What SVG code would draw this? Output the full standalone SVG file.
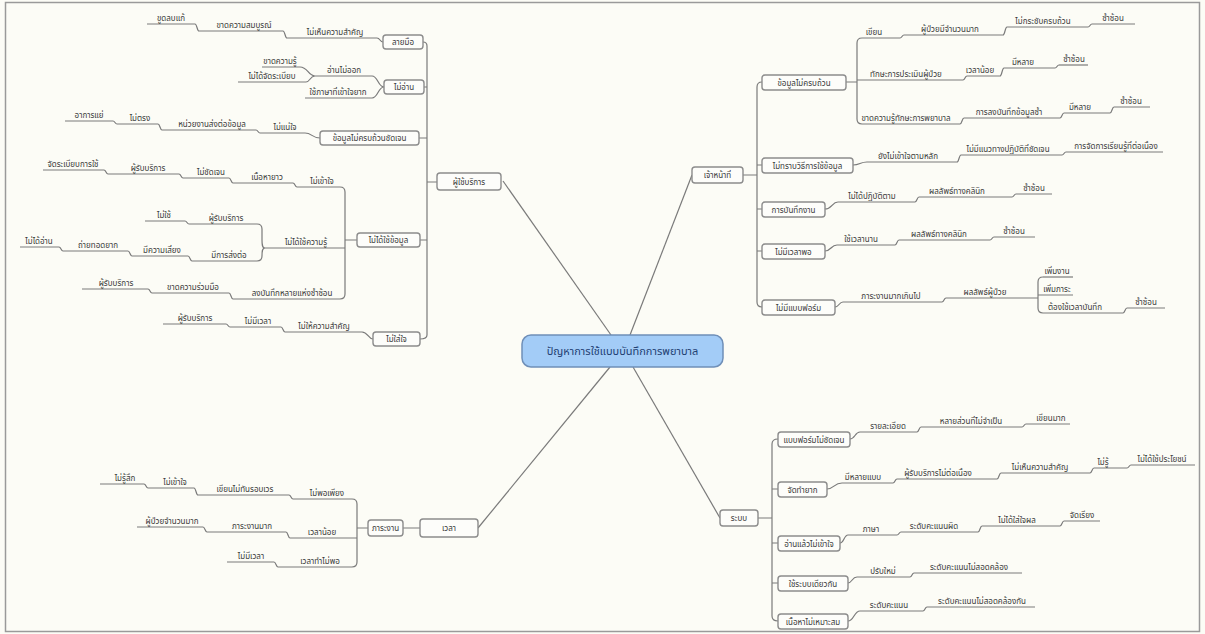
<svg xmlns="http://www.w3.org/2000/svg" width="1205" height="634" viewBox="0 0 1205 634">
<defs>
<style>
.bg{fill:#fcfcf6}
.bx{fill:#fdfdfa;stroke:#8c8c8c;stroke-width:1.4}
.tb{font-family:'Noto Sans Thai','Noto Sans','DejaVu Sans',sans-serif;font-size:8px;fill:#3a3a3a;text-anchor:middle}
.t{font-family:'Noto Sans Thai','Noto Sans','DejaVu Sans',sans-serif;font-size:8px;fill:#3a3a3a;text-anchor:middle}
.u{stroke:#7a7a7a;stroke-width:1.2;fill:none}
.c{stroke:#7a7a7a;stroke-width:1.2;fill:none}
</style>
</defs>
<rect class="bg" x="0" y="0" width="1205" height="634"/>
<rect x="5.5" y="2.5" width="1194" height="629" fill="none" stroke="#9a9a9a" stroke-width="1.5"/>

<g id="connectors">
<path class="c" d="M611,335 L503,181"/>
<path class="c" d="M630,335 L692,175"/>
<path class="c" d="M610,367 L478,528"/>
<path class="c" d="M633,367 L720,518"/>
<path class="c" d="M423,42 Q427,42 427,46 V335 Q427,339 420,339"/>
<path class="c" d="M427,182 H437 M427,87 H424 M427,138 H419 M427,240 H420"/>
<path class="c" d="M377,38 C380,38 380,42 383,42 M283,31 C285,31 285,38 287,38 M195,24 C197,24 197,31 199,31"/>
<path class="c" d="M384,87 C378,87 378,76 372,76 M384,87 C378,87 378,98 372,98"/>
<path class="c" d="M300,67 C308,67 308,76 315,76 M306,82 C310,82 310,76 315,76"/>
<path class="c" d="M305,133 C312,133 312,138 320,138 M256,130 C258,130 258,133 260,133 M158,124 C160,124 160,130 162,130 M113,121 C115,121 115,124 117,124"/>
<path class="c" d="M340,187 Q345,187 345,192 V294 Q345,299 340,299 M357,240 H345"/>
<path class="c" d="M293,183 C295,183 295,187 297,187 M229,178 C231,178 231,183 233,183 M179,174 C181,174 181,178 183,178 M104,170 C106,170 106,174 108,174"/>
<path class="c" d="M265,248 C262,248 262,244 262,240 V229 Q262,224 257,224 M265,248 C262,248 262,252 262,256 Q262,261 257,261"/>
<path class="c" d="M185,221 C187,221 187,224 189,224 M188,256 C190,256 190,261 192,261 M128,251 C130,251 130,256 132,256 M59,247 C61,247 61,251 63,251"/>
<path class="c" d="M229,293 C231,293 231,299 233,299 M148,289 C150,289 150,293 152,293"/>
<path class="c" d="M362,332 C368,332 368,339 373,339 M281,327 C283,327 283,332 285,332 M226,324 C228,324 228,327 230,327"/>
<path class="c" d="M762,82 Q757,82 757,87 V302 Q757,307 762,307 M743,175 H757 M757,165 H762 M757,209 H762 M757,251 H762"/>
<path class="c" d="M846,82 H857 M862,38 Q857,38 857,43 V119 Q857,124 862,124"/>
<path class="c" d="M900,38 C902,38 902,35 904,35 M1003,35 C1005,35 1005,27 1007,27 M1088,27 C1090,27 1090,24 1092,24"/>
<path class="c" d="M963,80 C965,80 965,76 967,76 M1000,76 C1002,76 1002,68 1004,68 M1055,68 C1057,68 1057,65 1059,65"/>
<path class="c" d="M960,124 C962,124 962,118 964,118 M1060,118 C1062,118 1062,113 1064,113 M1110,113 C1112,113 1112,107 1114,107"/>
<path class="c" d="M853,165 C860,165 860,162 867,162 M957,162 C959,162 959,155 961,155 M1062,155 C1064,155 1064,152 1066,152"/>
<path class="c" d="M825,209 C832,209 832,202 838,202 M915,202 C917,202 917,197 919,197 M1012,197 C1014,197 1014,194 1016,194"/>
<path class="c" d="M825,251 C831,251 831,245 837,245 M895,245 C897,245 897,240 899,240 M990,240 C992,240 992,237 994,237"/>
<path class="c" d="M835,307 C839,307 839,302 843,302 M942,302 C944,302 944,298 946,298 M1034,298 H1038 M1043,277 Q1038,277 1038,282 V308 Q1038,313 1043,313 M1123,313 C1125,313 1125,308 1127,308"/>
<path class="c" d="M403,528 H420 M368,528 H357 M352,499 Q357,499 357,504 V562 Q357,567 352,567"/>
<path class="c" d="M289,495 C291,495 291,499 293,499 M194,488 C196,488 196,495 198,495 M144,484 C146,484 146,488 148,488"/>
<path class="c" d="M286,532 C288,532 288,538 290,538 M203,527 C205,527 205,532 207,532 M274,562 C276,562 276,567 278,567"/>
<path class="c" d="M758,518 H772 M778,439 Q772,439 772,444 V616 Q772,621 778,621 M772,489 H778 M772,543 H778 M772,583 H778"/>
<path class="c" d="M850,439 C855,439 855,432 860,432 M917,432 C919,432 919,427 921,427 M1022,427 C1024,427 1024,424 1026,424"/>
<path class="c" d="M827,489 C834,489 834,483 842,483 M893,483 C895,483 895,479 897,479 M997,479 C999,479 999,473 1001,473 M1090,473 C1092,473 1092,468 1094,468 M1127,468 C1129,468 1129,465 1131,465"/>
<path class="c" d="M840,543 C844,543 844,535 848,535 M897,535 C899,535 899,532 901,532 M978,532 C980,532 980,526 982,526 M1060,526 C1062,526 1062,521 1064,521"/>
<path class="c" d="M848,583 C852,583 852,577 857,577 M910,577 C912,577 912,573 914,573"/>
<path class="c" d="M848,621 C854,621 854,611 860,611 M923,611 C925,611 925,607 927,607"/>
</g>

<g id="center"><rect x="522" y="335" width="201" height="32" rx="9" fill="#a3ccf7" stroke="#6f8fb8" stroke-width="1.5"/><text x="622.5" y="355" text-anchor="middle" font-family="'Noto Sans Thai','Noto Sans','DejaVu Sans',sans-serif" font-size="11" fill="#1f3f73">ปัญหาการใช้แบบบันทึกการพยาบาล</text></g>

<g id="b-user"><rect class="bx" x="437" y="173" width="64" height="17" rx="3"/><text class="tb" x="469" y="185">ผู้ใช้บริการ</text></g>
<g id="b-l1a"><rect class="bx" x="383" y="35" width="40" height="14" rx="3"/><text class="tb" x="403" y="45">ลายมือ</text></g>
<g id="b-l1b"><rect class="bx" x="384" y="80" width="40" height="14" rx="3"/><text class="tb" x="404" y="90">ไม่อ่าน</text></g>
<g id="b-l1c"><rect class="bx" x="320" y="131" width="99" height="14" rx="3"/><text class="tb" x="369.5" y="141">ข้อมูลไม่ครบถ้วนชัดเจน</text></g>
<g id="b-l1d"><rect class="bx" x="357" y="233" width="63" height="14" rx="3"/><text class="tb" x="388.5" y="243">ไม่ได้ใช้ข้อมูล</text></g>
<g id="b-l1e"><rect class="bx" x="373" y="332" width="47" height="14" rx="3"/><text class="tb" x="396.5" y="342">ไม่ใส่ใจ</text></g>

<g id="n1"><path class="u" d="M287,38H377"/><text class="t" x="335" y="35">ไม่เห็นความสำคัญ</text></g>
<g id="n2"><path class="u" d="M199,31H283"/><text class="t" x="244" y="28">ขาดความสมบูรณ์</text></g>
<g id="n3"><path class="u" d="M147,24H195"/><text class="t" x="171" y="21">ขูดลบแก้</text></g>
<g id="n4"><path class="u" d="M315,76H372"/><text class="t" x="344" y="73">อ่านไม่ออก</text></g>
<g id="n5"><path class="u" d="M305,98H372"/><text class="t" x="338" y="95">ใช้ภาษาที่เข้าใจยาก</text></g>
<g id="n6"><path class="u" d="M262,67H300"/><text class="t" x="280" y="64">ขาดความรู้</text></g>
<g id="n7"><path class="u" d="M238,82H306"/><text class="t" x="272" y="79">ไม่ได้จัดระเบียบ</text></g>
<g id="n8"><path class="u" d="M260,133H305"/><text class="t" x="285" y="130">ไม่แน่ใจ</text></g>
<g id="n9"><path class="u" d="M162,130H256"/><text class="t" x="212" y="127">หน่วยงานส่งต่อข้อมูล</text></g>
<g id="n10"><path class="u" d="M117,124H158"/><text class="t" x="140" y="121">ไม่ตรง</text></g>
<g id="n11"><path class="u" d="M65,121H113"/><text class="t" x="89" y="118">อาการแย่</text></g>
<g id="n12"><path class="u" d="M297,187H340"/><text class="t" x="322" y="184">ไม่เข้าใจ</text></g>
<g id="n15"><path class="u" d="M233,183H293"/><text class="t" x="267" y="180">เนื้อหายาว</text></g>
<g id="n16"><path class="u" d="M183,178H229"/><text class="t" x="211" y="175">ไม่ชัดเจน</text></g>
<g id="n17"><path class="u" d="M108,174H179"/><text class="t" x="148" y="171">ผู้รับบริการ</text></g>
<g id="n18"><path class="u" d="M43,170H104"/><text class="t" x="73" y="167">จัดระเบียบการใช้</text></g>
<g id="n13"><path class="u" d="M265,248H345"/><text class="t" x="306" y="245">ไม่ได้ใช้ความรู้</text></g>
<g id="n19"><path class="u" d="M189,224H257"/><text class="t" x="226" y="221">ผู้รับบริการ</text></g>
<g id="n21"><path class="u" d="M145,221H185"/><text class="t" x="164" y="218">ไม่ใช้</text></g>
<g id="n20"><path class="u" d="M192,261H257"/><text class="t" x="229" y="258">มีการส่งต่อ</text></g>
<g id="n22"><path class="u" d="M132,256H188"/><text class="t" x="162" y="253">มีความเสี่ยง</text></g>
<g id="n23"><path class="u" d="M63,251H128"/><text class="t" x="98" y="248">ถ่ายทอดยาก</text></g>
<g id="n24"><path class="u" d="M20,247H59"/><text class="t" x="39" y="244">ไม่ได้อ่าน</text></g>
<g id="n14"><path class="u" d="M233,299H340"/><text class="t" x="292" y="296">ลงบันทึกหลายแห่งซ้ำซ้อน</text></g>
<g id="n25"><path class="u" d="M152,293H229"/><text class="t" x="193" y="290">ขาดความร่วมมือ</text></g>
<g id="n26"><path class="u" d="M82,289H148"/><text class="t" x="116" y="286">ผู้รับบริการ</text></g>
<g id="n27"><path class="u" d="M285,332H362"/><text class="t" x="324" y="329">ไม่ให้ความสำคัญ</text></g>
<g id="n28"><path class="u" d="M230,327H281"/><text class="t" x="258" y="324">ไม่มีเวลา</text></g>
<g id="n29"><path class="u" d="M163,324H226"/><text class="t" x="195" y="321">ผู้รับบริการ</text></g>

<g id="b-staff"><rect class="bx" x="692" y="167" width="51" height="16" rx="3"/><text class="tb" x="717.5" y="178">เจ้าหน้าที่</text></g>
<g id="b-r1a"><rect class="bx" x="762" y="75" width="84" height="15" rx="3"/><text class="tb" x="804" y="85.5">ข้อมูลไม่ครบถ้วน</text></g>
<g id="b-r1b"><rect class="bx" x="762" y="158" width="91" height="15" rx="3"/><text class="tb" x="807.5" y="168.5">ไม่ทราบวิธีการใช้ข้อมูล</text></g>
<g id="b-r1c"><rect class="bx" x="762" y="202" width="63" height="15" rx="3"/><text class="tb" x="793.5" y="212.5">การบันทึกงาน</text></g>
<g id="b-r1d"><rect class="bx" x="762" y="244" width="63" height="15" rx="3"/><text class="tb" x="793.5" y="254.5">ไม่มีเวลาพอ</text></g>
<g id="b-r1e"><rect class="bx" x="762" y="300" width="73" height="15" rx="3"/><text class="tb" x="798.5" y="310.5">ไม่มีแบบฟอร์ม</text></g>

<g id="r1"><path class="u" d="M862,38H900"/><text class="t" x="874" y="35">เขียน</text></g>
<g id="r4"><path class="u" d="M904,35H1003"/><text class="t" x="950" y="32">ผู้ป่วยมีจำนวนมาก</text></g>
<g id="r5"><path class="u" d="M1007,27H1088"/><text class="t" x="1043" y="24">ไม่กระชับครบถ้วน</text></g>
<g id="r6"><path class="u" d="M1092,24H1135"/><text class="t" x="1113" y="21">ซ้ำซ้อน</text></g>
<g id="r2"><path class="u" d="M857,80H963"/><text class="t" x="906" y="77">ทักษะการประเมินผู้ป่วย</text></g>
<g id="r7"><path class="u" d="M967,76H1000"/><text class="t" x="980" y="73">เวลาน้อย</text></g>
<g id="r8"><path class="u" d="M1004,68H1055"/><text class="t" x="1023" y="65">มีหลาย</text></g>
<g id="r9"><path class="u" d="M1059,65H1088"/><text class="t" x="1074" y="62">ซ้ำซ้อน</text></g>
<g id="r3"><path class="u" d="M862,124H960"/><text class="t" x="906" y="121">ขาดความรู้ทักษะการพยาบาล</text></g>
<g id="r10"><path class="u" d="M964,118H1060"/><text class="t" x="1009" y="115">การลงบันทึกข้อมูลซ้ำ</text></g>
<g id="r11"><path class="u" d="M1064,113H1110"/><text class="t" x="1080" y="110">มีหลาย</text></g>
<g id="r12"><path class="u" d="M1114,107H1150"/><text class="t" x="1131" y="104">ซ้ำซ้อน</text></g>
<g id="r13"><path class="u" d="M867,162H957"/><text class="t" x="908" y="159">ยังไม่เข้าใจตามหลัก</text></g>
<g id="r14"><path class="u" d="M961,155H1062"/><text class="t" x="1008" y="152">ไม่มีแนวทางปฏิบัติที่ชัดเจน</text></g>
<g id="r15"><path class="u" d="M1066,152H1163"/><text class="t" x="1116" y="149">การจัดการเรียนรู้ที่ต่อเนื่อง</text></g>
<g id="r16"><path class="u" d="M838,202H915"/><text class="t" x="872" y="199">ไม่ได้ปฏิบัติตาม</text></g>
<g id="r17"><path class="u" d="M919,197H1012"/><text class="t" x="957" y="194">ผลลัพธ์ทางคลินิก</text></g>
<g id="r18"><path class="u" d="M1016,194H1052"/><text class="t" x="1034" y="191">ซ้ำซ้อน</text></g>
<g id="r19"><path class="u" d="M837,245H895"/><text class="t" x="861" y="242">ใช้เวลานาน</text></g>
<g id="r20"><path class="u" d="M899,240H990"/><text class="t" x="939" y="237">ผลลัพธ์ทางคลินิก</text></g>
<g id="r21"><path class="u" d="M994,237H1035"/><text class="t" x="1014" y="234">ซ้ำซ้อน</text></g>
<g id="r22"><path class="u" d="M843,302H942"/><text class="t" x="891" y="299">ภาระงานมากเกินไป</text></g>
<g id="r23"><path class="u" d="M946,298H1034"/><text class="t" x="985" y="295">ผลลัพธ์ผู้ป่วย</text></g>
<g id="r24"><path class="u" d="M1043,277H1073"/><text class="t" x="1057" y="274">เพิ่มงาน</text></g>
<g id="r25"><path class="u" d="M1038,295H1073"/><text class="t" x="1057" y="292">เพิ่มภาระ</text></g>
<g id="r26"><path class="u" d="M1043,313H1123"/><text class="t" x="1075" y="310">ต้องใช้เวลาบันทึก</text></g>
<g id="r27"><path class="u" d="M1127,308H1165"/><text class="t" x="1146" y="305">ซ้ำซ้อน</text></g>

<g id="b-time"><rect class="bx" x="420" y="519" width="58" height="18" rx="3"/><text class="tb" x="449" y="531">เวลา</text></g>
<g id="b-load"><rect class="bx" x="368" y="520" width="35" height="16" rx="3"/><text class="tb" x="385.5" y="531">ภาระงาน</text></g>
<g id="bl1"><path class="u" d="M293,499H352"/><text class="t" x="327" y="496">ไม่พอเพียง</text></g>
<g id="bl4"><path class="u" d="M198,495H289"/><text class="t" x="245" y="492">เขียนไม่ทันรอบเวร</text></g>
<g id="bl5"><path class="u" d="M148,488H194"/><text class="t" x="175" y="485">ไม่เข้าใจ</text></g>
<g id="bl6"><path class="u" d="M100,484H144"/><text class="t" x="125" y="481">ไม่รู้สึก</text></g>
<g id="bl2"><path class="u" d="M290,538H357"/><text class="t" x="322" y="535">เวลาน้อย</text></g>
<g id="bl7"><path class="u" d="M207,532H286"/><text class="t" x="252" y="529">ภาระงานมาก</text></g>
<g id="bl8"><path class="u" d="M137,527H203"/><text class="t" x="172" y="524">ผู้ป่วยจำนวนมาก</text></g>
<g id="bl3"><path class="u" d="M278,567H352"/><text class="t" x="320" y="564">เวลาทำไม่พอ</text></g>
<g id="bl9"><path class="u" d="M227,562H274"/><text class="t" x="251" y="559">ไม่มีเวลา</text></g>

<g id="b-system"><rect class="bx" x="720" y="510" width="38" height="16" rx="3"/><text class="tb" x="739" y="521">ระบบ</text></g>
<g id="b-s1"><rect class="bx" x="778" y="432" width="72" height="15" rx="3"/><text class="tb" x="814" y="442.5">แบบฟอร์มไม่ชัดเจน</text></g>
<g id="b-s2"><rect class="bx" x="778" y="482" width="49" height="15" rx="3"/><text class="tb" x="802.5" y="492.5">จัดทำยาก</text></g>
<g id="b-s3"><rect class="bx" x="778" y="536" width="62" height="15" rx="3"/><text class="tb" x="809" y="546.5">อ่านแล้วไม่เข้าใจ</text></g>
<g id="b-s4"><rect class="bx" x="778" y="576" width="70" height="15" rx="3"/><text class="tb" x="813" y="586.5">ใช้ระบบเดียวกัน</text></g>
<g id="b-s5"><rect class="bx" x="778" y="614" width="70" height="15" rx="3"/><text class="tb" x="813" y="624.5">เนื้อหาไม่เหมาะสม</text></g>
<g id="s1"><path class="u" d="M860,432H917"/><text class="t" x="888" y="429">รายละเอียด</text></g>
<g id="s2"><path class="u" d="M921,427H1022"/><text class="t" x="971" y="424">หลายส่วนที่ไม่จำเป็น</text></g>
<g id="s3"><path class="u" d="M1026,424H1070"/><text class="t" x="1051" y="421">เขียนมาก</text></g>
<g id="s4"><path class="u" d="M842,483H893"/><text class="t" x="863" y="480">มีหลายแบบ</text></g>
<g id="s5"><path class="u" d="M897,479H997"/><text class="t" x="938" y="476">ผู้รับบริการไม่ต่อเนื่อง</text></g>
<g id="s6"><path class="u" d="M1001,473H1090"/><text class="t" x="1040" y="470">ไม่เห็นความสำคัญ</text></g>
<g id="s7"><path class="u" d="M1094,468H1127"/><text class="t" x="1103" y="465">ไม่รู้</text></g>
<g id="s8"><path class="u" d="M1131,465H1195"/><text class="t" x="1162" y="462">ไม่ได้ใช้ประโยชน์</text></g>
<g id="s9"><path class="u" d="M848,535H897"/><text class="t" x="871" y="532">ภาษา</text></g>
<g id="s10"><path class="u" d="M901,532H978"/><text class="t" x="934" y="529">ระดับคะแนนผิด</text></g>
<g id="s11"><path class="u" d="M982,526H1060"/><text class="t" x="1017" y="523">ไม่ได้ใส่ใจผล</text></g>
<g id="s12"><path class="u" d="M1064,521H1100"/><text class="t" x="1082" y="518">จัดเรียง</text></g>
<g id="s13"><path class="u" d="M857,577H910"/><text class="t" x="883" y="574">ปรับใหม่</text></g>
<g id="s14"><path class="u" d="M914,573H1022"/><text class="t" x="969" y="570">ระดับคะแนนไม่สอดคล้อง</text></g>
<g id="s15"><path class="u" d="M860,611H923"/><text class="t" x="889" y="608">ระดับคะแนน</text></g>
<g id="s16"><path class="u" d="M927,607H1035"/><text class="t" x="982" y="604">ระดับคะแนนไม่สอดคล้องกัน</text></g>
</svg>
